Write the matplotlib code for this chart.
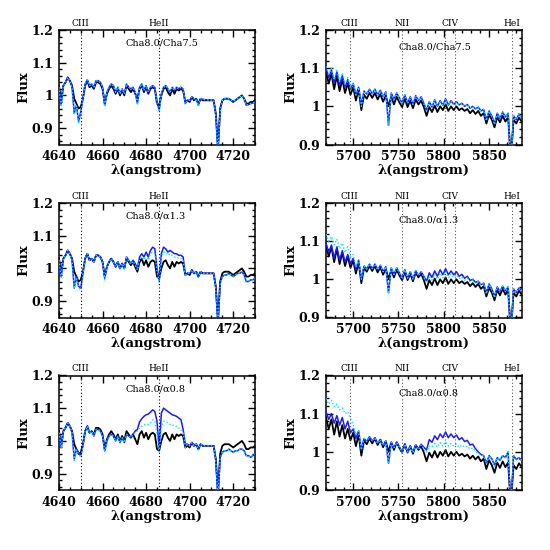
import numpy as np
import matplotlib
matplotlib.use("Agg")
import matplotlib.pyplot as plt
from matplotlib.ticker import MultipleLocator, FuncFormatter

# ---------------- data ----------------
wl_left = list(range(4640, 4731))          # 1 A sampling
wl_right = list(range(5670, 5887, 3))      # 3 A sampling

black_left = [
    1.03, 0.985, 1.03, 1.04, 1.055, 1.045, 1.03, 0.99, 0.975, 0.96,
    0.965, 0.99, 1.03, 1.045, 1.025, 1.03, 1.02, 1.04, 1.04, 1.035,
    1.02, 0.975, 1.005, 1.02, 1.03, 1.02, 1.005, 1.02, 1.0, 1.015,
    1.0, 1.03, 1.02, 1.01, 1.02, 1.005, 0.99, 1.02, 1.03, 1.01,
    1.025, 1.005, 1.02, 1.025, 1.02, 0.975, 0.97, 1.0, 1.02, 1.025,
    1.01, 1.0, 1.02, 1.005, 1.02, 1.015, 1.02, 1.015, 0.98, 0.985,
    0.98, 0.995, 0.985, 0.99, 0.975, 0.99, 0.985, 0.985, 0.985, 0.985,
    0.985, 0.985, 0.945, 0.84, 0.96, 0.985, 0.99, 0.99, 0.99, 0.985,
    0.98, 0.985, 0.99, 0.995, 1.0, 0.99, 0.975, 0.975, 0.98, 0.98,
    0.985]

blue_left_r1 = [
    1.025, 0.97, 1.03, 1.04, 1.055, 1.045, 1.025, 0.945, 0.97, 0.92,
    0.95, 0.99, 1.035, 1.048, 1.03, 1.035, 1.025, 1.045, 1.045, 1.04,
    1.025, 0.97, 1.01, 1.025, 1.035, 1.03, 1.01, 1.025, 1.005, 1.02,
    1.005, 1.035, 1.025, 1.02, 1.025, 1.01, 0.975, 1.025, 1.035, 1.015,
    1.03, 1.01, 1.025, 1.03, 1.025, 0.98, 0.955, 1.005, 1.025, 1.03,
    1.02, 1.01, 1.025, 1.015, 1.025, 1.02, 1.025, 1.02, 0.975, 0.985,
    0.985, 0.995, 0.99, 0.99, 0.97, 0.99, 0.988, 0.987, 0.987, 0.986,
    0.986, 0.985, 0.94, 0.83, 0.955, 0.985, 0.99, 0.99, 0.99, 0.985,
    0.982, 0.985, 0.99, 0.995, 1.0, 0.99, 0.97, 0.972, 0.975, 0.977,
    0.98]

cyan_left_r1 = [
    1.025, 0.965, 1.03, 1.04, 1.055, 1.045, 1.025, 0.94, 0.968, 0.915,
    0.948, 0.99, 1.035, 1.048, 1.03, 1.035, 1.025, 1.045, 1.045, 1.04,
    1.025, 0.965, 1.01, 1.025, 1.035, 1.03, 1.01, 1.025, 1.005, 1.02,
    1.005, 1.035, 1.025, 1.02, 1.025, 1.01, 0.972, 1.025, 1.035, 1.015,
    1.03, 1.01, 1.025, 1.03, 1.025, 0.975, 0.95, 1.005, 1.025, 1.03,
    1.02, 1.01, 1.025, 1.015, 1.025, 1.02, 1.025, 1.02, 0.975, 0.985,
    0.985, 0.995, 0.99, 0.99, 0.968, 0.99, 0.988, 0.987, 0.987, 0.986,
    0.986, 0.985, 0.935, 0.83, 0.95, 0.985, 0.99, 0.99, 0.99, 0.985,
    0.982, 0.985, 0.99, 0.995, 1.0, 0.99, 0.97, 0.972, 0.975, 0.977,
    0.98]

blue_left_r2 = [
    1.025, 0.975, 1.03, 1.04, 1.055, 1.045, 1.025, 0.94, 0.975, 0.945,
    0.94, 0.985, 1.03, 1.045, 1.025, 1.03, 1.02, 1.04, 1.04, 1.035,
    1.02, 0.97, 1.005, 1.02, 1.03, 1.02, 1.005, 1.02, 1.0, 1.015,
    1.0, 1.035, 1.025, 1.015, 1.025, 1.015, 1.0, 1.035, 1.045, 1.035,
    1.05, 1.035, 1.055, 1.065, 1.06, 1.0, 0.965, 1.045, 1.065, 1.06,
    1.05, 1.055, 1.05, 1.045, 1.045, 1.04, 1.04, 1.035, 0.98, 0.985,
    0.985, 0.995, 0.985, 0.99, 0.975, 0.99, 0.985, 0.985, 0.985, 0.985,
    0.985, 0.985, 0.94, 0.83, 0.955, 0.975, 0.98, 0.98, 0.985, 0.98,
    0.975, 0.98, 0.985, 0.985, 0.99, 0.98, 0.96, 0.96, 0.965, 0.965,
    0.97]

cyan_left_r2 = [
    1.025, 0.972, 1.03, 1.04, 1.055, 1.045, 1.025, 0.938, 0.972, 0.94,
    0.935, 0.985, 1.03, 1.045, 1.025, 1.03, 1.02, 1.04, 1.04, 1.035,
    1.02, 0.965, 1.005, 1.02, 1.03, 1.02, 1.005, 1.02, 1.0, 1.015,
    1.0, 1.033, 1.022, 1.013, 1.022, 1.01, 0.995, 1.027, 1.035, 1.025,
    1.04, 1.025, 1.045, 1.05, 1.045, 0.99, 0.955, 1.035, 1.05, 1.05,
    1.04, 1.045, 1.04, 1.035, 1.035, 1.03, 1.03, 1.025, 0.975, 0.985,
    0.985, 0.995, 0.985, 0.99, 0.972, 0.99, 0.985, 0.985, 0.985, 0.985,
    0.985, 0.985, 0.935, 0.83, 0.95, 0.975, 0.98, 0.98, 0.985, 0.98,
    0.975, 0.98, 0.985, 0.985, 0.99, 0.98, 0.96, 0.96, 0.965, 0.965,
    0.97]

blue_left_r3 = [
    1.025, 0.98, 1.03, 1.04, 1.055, 1.045, 1.025, 0.945, 0.975, 0.965,
    0.955, 0.985, 1.03, 1.045, 1.025, 1.03, 1.015, 1.035, 1.035, 1.03,
    1.015, 0.97, 1.0, 1.015, 1.02, 1.015, 1.0, 1.015, 0.995, 1.01,
    0.995, 1.02, 1.015, 1.01, 1.02, 1.03, 1.035, 1.058, 1.068, 1.075,
    1.08, 1.082, 1.088, 1.095, 1.09, 1.06, 0.975, 1.085, 1.1, 1.095,
    1.09, 1.085, 1.08, 1.078, 1.075, 1.07, 1.065, 1.035, 0.99, 0.99,
    0.985, 0.995, 0.985, 0.99, 0.975, 0.99, 0.985, 0.985, 0.985, 0.985,
    0.985, 0.985, 0.94, 0.83, 0.95, 0.965, 0.97, 0.97, 0.975, 0.97,
    0.965, 0.97, 0.97, 0.975, 0.975, 0.97, 0.955, 0.955, 0.95, 0.955,
    0.96]

cyan_left_r3 = [
    1.025, 0.978, 1.03, 1.04, 1.055, 1.045, 1.025, 0.94, 0.972, 0.96,
    0.95, 0.985, 1.03, 1.045, 1.025, 1.03, 1.015, 1.035, 1.035, 1.03,
    1.015, 0.965, 1.0, 1.015, 1.02, 1.015, 1.0, 1.015, 0.995, 1.01,
    0.995, 1.02, 1.015, 1.01, 1.02, 1.025, 1.03, 1.04, 1.045, 1.05,
    1.05, 1.05, 1.055, 1.065, 1.06, 1.02, 0.965, 1.04, 1.06, 1.06,
    1.055, 1.05, 1.05, 1.045, 1.045, 1.04, 1.035, 1.025, 0.98, 0.99,
    0.985, 0.995, 0.985, 0.99, 0.972, 0.99, 0.985, 0.985, 0.985, 0.985,
    0.985, 0.985, 0.935, 0.83, 0.945, 0.965, 0.97, 0.97, 0.975, 0.97,
    0.965, 0.97, 0.97, 0.975, 0.975, 0.97, 0.955, 0.955, 0.95, 0.955,
    0.96]

black_right = [
    1.09, 1.06, 1.085, 1.045, 1.08, 1.04, 1.07, 1.035, 1.06, 1.03,
    1.05, 1.015, 1.045, 0.99, 1.03, 1.02, 1.035, 1.022, 1.035, 1.018,
    1.032, 1.012, 1.028, 1.0, 1.025, 1.005, 1.025, 1.01, 0.998, 1.02,
    0.998, 1.015, 0.995, 1.018, 1.005, 1.015, 0.998, 0.975, 0.998, 0.985,
    1.002, 0.985, 1.0, 0.99, 1.005, 0.988, 1.0, 0.99, 1.0, 0.99,
    0.995, 0.988, 0.993, 0.982, 0.99, 0.98, 0.988, 0.975, 0.982, 0.955,
    0.978, 0.965, 0.945, 0.972, 0.958, 0.975, 0.96, 0.972, 0.86, 0.965,
    0.955, 0.97, 0.96]

blue_right_r1 = [
    1.1, 1.075, 1.095, 1.06, 1.09, 1.055, 1.08, 1.05, 1.07, 1.045,
    1.06, 1.03, 1.05, 1.005, 1.04, 1.032, 1.045, 1.033, 1.045, 1.03,
    1.042, 1.025, 1.038, 0.95, 1.035, 1.018, 1.035, 1.022, 1.008, 1.03,
    1.008, 1.025, 1.005, 1.028, 1.015, 1.025, 1.008, 0.99, 1.012, 0.998,
    1.017, 1.0, 1.015, 1.003, 1.02, 1.003, 1.015, 1.005, 1.012, 1.004,
    1.008, 1.0, 1.005, 0.995, 1.0, 0.993, 0.998, 0.988, 0.992, 0.965,
    0.988, 0.975, 0.955, 0.982, 0.968, 0.985, 0.972, 0.982, 0.85, 0.975,
    0.965, 0.98, 0.97]

cyan_right_r1 = [
    1.105, 1.085, 1.1, 1.07, 1.097, 1.065, 1.088, 1.058, 1.075, 1.05,
    1.062, 1.03, 1.05, 1.0, 1.04, 1.032, 1.045, 1.033, 1.045, 1.03,
    1.042, 1.025, 1.038, 0.948, 1.035, 1.018, 1.035, 1.022, 1.006, 1.03,
    1.008, 1.025, 1.005, 1.028, 1.015, 1.025, 1.008, 0.988, 1.012, 0.998,
    1.017, 1.0, 1.015, 1.003, 1.02, 1.003, 1.015, 1.005, 1.012, 1.004,
    1.008, 1.0, 1.005, 0.995, 1.0, 0.993, 0.998, 0.988, 0.992, 0.962,
    0.988, 0.975, 0.952, 0.982, 0.968, 0.985, 0.972, 0.982, 0.85, 0.975,
    0.965, 0.98, 0.97]

blue_right_r2 = [
    1.095, 1.07, 1.09, 1.055, 1.085, 1.05, 1.075, 1.045, 1.065, 1.04,
    1.055, 1.025, 1.05, 1.0, 1.035, 1.027, 1.04, 1.028, 1.04, 1.025,
    1.037, 1.02, 1.033, 0.965, 1.03, 1.013, 1.03, 1.017, 1.003, 1.025,
    1.003, 1.02, 1.0, 1.023, 1.01, 1.02, 1.008, 0.995, 1.017, 1.005,
    1.022, 1.008, 1.025, 1.012, 1.028, 1.012, 1.022, 1.012, 1.02, 1.008,
    1.013, 1.003, 1.008, 0.997, 1.0, 0.992, 0.995, 0.986, 0.99, 0.965,
    0.988, 0.975, 0.955, 0.98, 0.968, 0.982, 0.97, 0.98, 0.85, 0.975,
    0.965, 0.978, 0.97]

cyan_right_r2 = [
    1.118, 1.1, 1.112, 1.09, 1.105, 1.08, 1.095, 1.07, 1.085, 1.06,
    1.065, 1.032, 1.052, 1.0, 1.035, 1.027, 1.04, 1.028, 1.04, 1.025,
    1.037, 1.02, 1.033, 0.962, 1.03, 1.013, 1.03, 1.017, 1.001, 1.025,
    1.003, 1.02, 1.0, 1.023, 1.01, 1.02, 1.005, 0.99, 1.008, 0.998,
    1.013, 1.0, 1.016, 1.004, 1.02, 1.004, 1.014, 1.005, 1.012, 1.002,
    1.006, 0.998, 1.003, 0.994, 0.998, 0.99, 0.994, 0.986, 0.99, 0.962,
    0.988, 0.975, 0.952, 0.98, 0.968, 0.982, 0.97, 0.98, 0.85, 0.975,
    0.965, 0.978, 0.97]

blue_right_r3 = [
    1.105, 1.085, 1.1, 1.075, 1.095, 1.07, 1.09, 1.06, 1.08, 1.05,
    1.06, 1.035, 1.055, 1.005, 1.035, 1.027, 1.04, 1.028, 1.037, 1.022,
    1.032, 1.017, 1.028, 0.97, 1.025, 1.01, 1.025, 1.013, 1.0, 1.02,
    1.0, 1.015, 0.998, 1.018, 1.008, 1.02, 1.012, 1.005, 1.032, 1.025,
    1.042, 1.032, 1.047, 1.037, 1.052, 1.037, 1.047, 1.037, 1.044, 1.032,
    1.037, 1.027, 1.03, 1.018, 1.02, 1.008, 1.0, 0.993, 0.99, 0.97,
    0.99, 0.982, 0.965, 0.985, 0.978, 0.99, 0.985, 1.0, 0.85, 0.99,
    0.98, 0.985, 0.978]

cyan_right_r3 = [
    1.14, 1.125, 1.135, 1.118, 1.125, 1.11, 1.115, 1.1, 1.105, 1.088,
    1.07, 1.045, 1.055, 1.005, 1.035, 1.027, 1.04, 1.028, 1.037, 1.022,
    1.032, 1.017, 1.028, 0.968, 1.025, 1.01, 1.025, 1.013, 0.998, 1.02,
    1.0, 1.015, 0.998, 1.018, 1.006, 1.018, 1.008, 0.998, 1.015, 1.012,
    1.022, 1.012, 1.024, 1.015, 1.026, 1.015, 1.022, 1.015, 1.02, 1.012,
    1.018, 1.012, 1.015, 1.007, 1.01, 1.002, 0.995, 0.993, 0.99, 0.968,
    0.99, 0.982, 0.962, 0.985, 0.978, 0.99, 0.985, 1.0, 0.85, 0.99,
    0.98, 0.985, 0.978]

titles = ["Cha8.0/Cha7.5", "Cha8.0/\u03b11.3", "Cha8.0/\u03b10.8"]
lines_left = {"CIII": 4650.0, "HeII": 4685.7}
lines_right = {"CIII": 5696.0, "NII": 5754.0, "CIV": [5801.0, 5812.0], "HeI": 5875.6}

xlim_left = (4640, 4730)
ylim_left = (0.85, 1.2)
xlim_right = (5670, 5886)
ylim_right = (0.9, 1.2)

blue_left = [blue_left_r1, blue_left_r2, blue_left_r3]
cyan_left = [cyan_left_r1, cyan_left_r2, cyan_left_r3]
blue_right = [blue_right_r1, blue_right_r2, blue_right_r3]
cyan_right = [cyan_right_r1, cyan_right_r2, cyan_right_r3]

# ---------------- figure ----------------
FONT = "DejaVu Serif"
plt.rcParams["font.family"] = FONT
plt.rcParams["mathtext.fontset"] = "dejavuserif"

fig = plt.figure(figsize=(5.5, 5.5), dpi=100)
fig.patch.set_facecolor("white")

left_x0, left_w = 59 / 550, 196 / 550
right_x0, right_w = 326 / 550, 195.7 / 550
row_tops = [30, 203, 375.5]
row_h = 114.5

BLUE = "#1a1aff"
CYAN = "#00e5ff"

fmt = FuncFormatter(lambda v, p: ("%g" % round(v, 3)))


def style_axes(ax, xmajor, xminor):
    ax.xaxis.set_major_locator(MultipleLocator(xmajor))
    ax.xaxis.set_minor_locator(MultipleLocator(xminor))
    ax.yaxis.set_major_locator(MultipleLocator(0.1))
    ax.yaxis.set_minor_locator(MultipleLocator(0.02))
    ax.yaxis.set_major_formatter(fmt)
    ax.tick_params(which="both", direction="in", top=True, right=True,
                   width=1.0, labelsize=9)
    ax.tick_params(which="major", length=5, pad=4)
    ax.tick_params(which="minor", length=2.5)
    for s in ax.spines.values():
        s.set_linewidth(1.1)
    for lab in ax.get_xticklabels() + ax.get_yticklabels():
        lab.set_fontweight("bold")
    ax.set_xlabel("\u03bb(angstrom)", fontsize=9.5, fontweight="bold", labelpad=1)
    ax.set_ylabel("Flux", fontsize=9.5, fontweight="bold", labelpad=1)


for r in range(3):
    bottom = 1 - (row_tops[r] + row_h) / 550
    h = row_h / 550

    # left panel
    ax = fig.add_axes([left_x0, bottom, left_w, h])
    ax.plot(wl_left, black_left, color="black", lw=1.3, zorder=3)
    ax.plot(wl_left, blue_left[r], color=BLUE, lw=1.1, zorder=4)
    ax.plot(wl_left, cyan_left[r], color=CYAN, lw=1.0, ls=(0, (1, 1.5)), zorder=5)
    ax.set_xlim(*xlim_left)
    ax.set_ylim(*ylim_left)
    for name, w in lines_left.items():
        ax.axvline(w, color="black", lw=0.8, ls=(0, (1, 2)), zorder=6)
        ax.text(w, 1.02, name, transform=ax.get_xaxis_transform(), ha="center",
                va="bottom", fontsize=6.5)
    ax.text(0.34, 0.885, titles[r], transform=ax.transAxes, ha="left",
            va="center", fontsize=7)
    style_axes(ax, 20, 5)

    # right panel
    ax = fig.add_axes([right_x0, bottom, right_w, h])
    ax.plot(wl_right, black_right, color="black", lw=1.3, zorder=3)
    ax.plot(wl_right, blue_right[r], color=BLUE, lw=1.1, zorder=4)
    ax.plot(wl_right, cyan_right[r], color=CYAN, lw=1.0, ls=(0, (1, 1.5)), zorder=5)
    ax.set_xlim(*xlim_right)
    ax.set_ylim(*ylim_right)
    for name, w in lines_right.items():
        ws = w if isinstance(w, list) else [w]
        for wv in ws:
            ax.axvline(wv, color="#555555", lw=0.8, ls=(0, (1, 2)), zorder=6)
        ax.text(np.mean(ws), 1.02, name, transform=ax.get_xaxis_transform(),
                ha="center", va="bottom", fontsize=6.5)
    ax.text(0.37, 0.85, titles[r], transform=ax.transAxes, ha="left",
            va="center", fontsize=7)
    style_axes(ax, 50, 10)

fig.savefig("out.png", dpi=100, facecolor="white")
